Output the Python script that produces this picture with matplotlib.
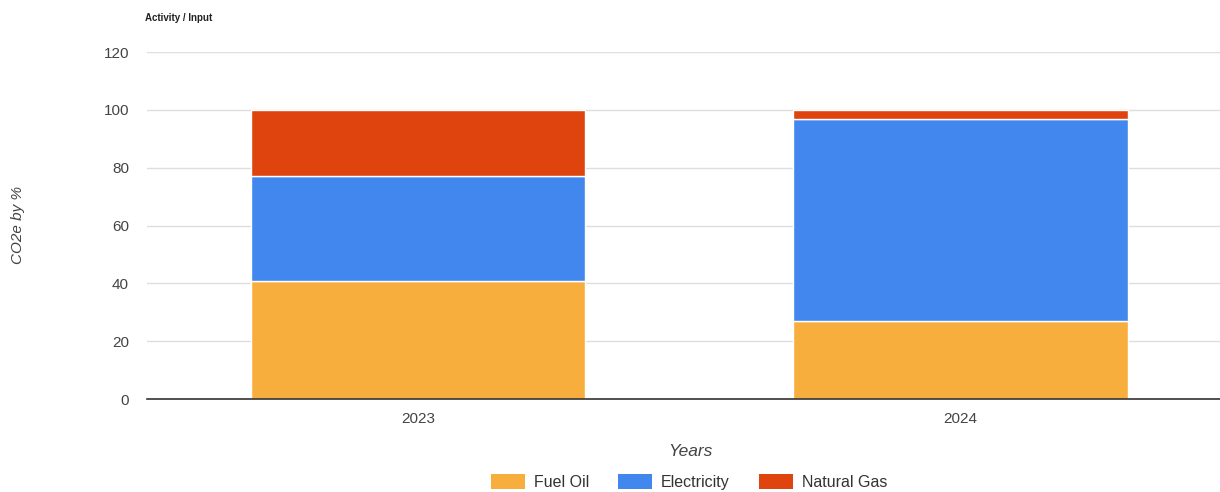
import matplotlib.pyplot as plt
from matplotlib.patches import Patch

plt.rcParams["font.family"] = ["Liberation Sans", "DejaVu Sans"]

years = ["2023", "2024"]
fuel_oil = [41, 27]
electricity = [36, 70]
natural_gas = [23, 3]

series_names = ["Fuel Oil", "Electricity", "Natural Gas"]
series_colors = ["#F8AE3C", "#4187EE", "#E0440E"]

fig = plt.figure(figsize=(12.2, 4.92), dpi=100)
ax = fig.add_axes([0.1205, 0.189, 0.889, 0.705])

x = list(range(len(years)))
bottom = [0] * len(years)
for vals, color in zip([fuel_oil, electricity, natural_gas], series_colors):
    ax.bar(x, vals, bottom=bottom, width=0.617, color=color,
           edgecolor="white", linewidth=1.0, zorder=3)
    bottom = [b + v for b, v in zip(bottom, vals)]

ax.set_xlim(-0.5, 1.5)
ax.set_ylim(0, 120)
ax.set_yticks(range(0, 121, 20))
ax.set_xticks(x)
ax.set_xticklabels(years)
ax.tick_params(axis="both", length=0, labelsize=11, colors="#444444")
ax.tick_params(axis="y", pad=13)
ax.tick_params(axis="x", pad=9)

ax.grid(axis="y", color="#dedede", linewidth=1, zorder=0)
for side in ["top", "right", "left"]:
    ax.spines[side].set_visible(False)
ax.spines["bottom"].set_color("#333333")
ax.spines["bottom"].set_linewidth(1.2)
ax.spines["bottom"].set_zorder(4)

fig.text(145 / 1220, 1 - 18 / 492, "Activity / Input", fontsize=7,
         fontweight="bold", color="#222222", ha="left", va="center")
fig.text(18 / 1220, 1 - 225 / 492, "CO2e by %", fontsize=11,
         style="italic", color="#444444", rotation=90, ha="center", va="center")
fig.text(690 / 1220, 1 - 451 / 492, "Years", fontsize=12.5,
         style="italic", color="#444444", ha="center", va="center")

handles = [Patch(facecolor=c, edgecolor="none") for c in series_colors]
fig.legend(handles, series_names, loc="center", ncol=3,
           bbox_to_anchor=(689 / 1220, 1 - 482 / 492), frameon=False,
           fontsize=11.5, handlelength=2.15, handleheight=1.05,
           columnspacing=1.8, handletextpad=0.55, labelcolor="#333333")

fig.savefig("out.png", dpi=100, facecolor="white")
